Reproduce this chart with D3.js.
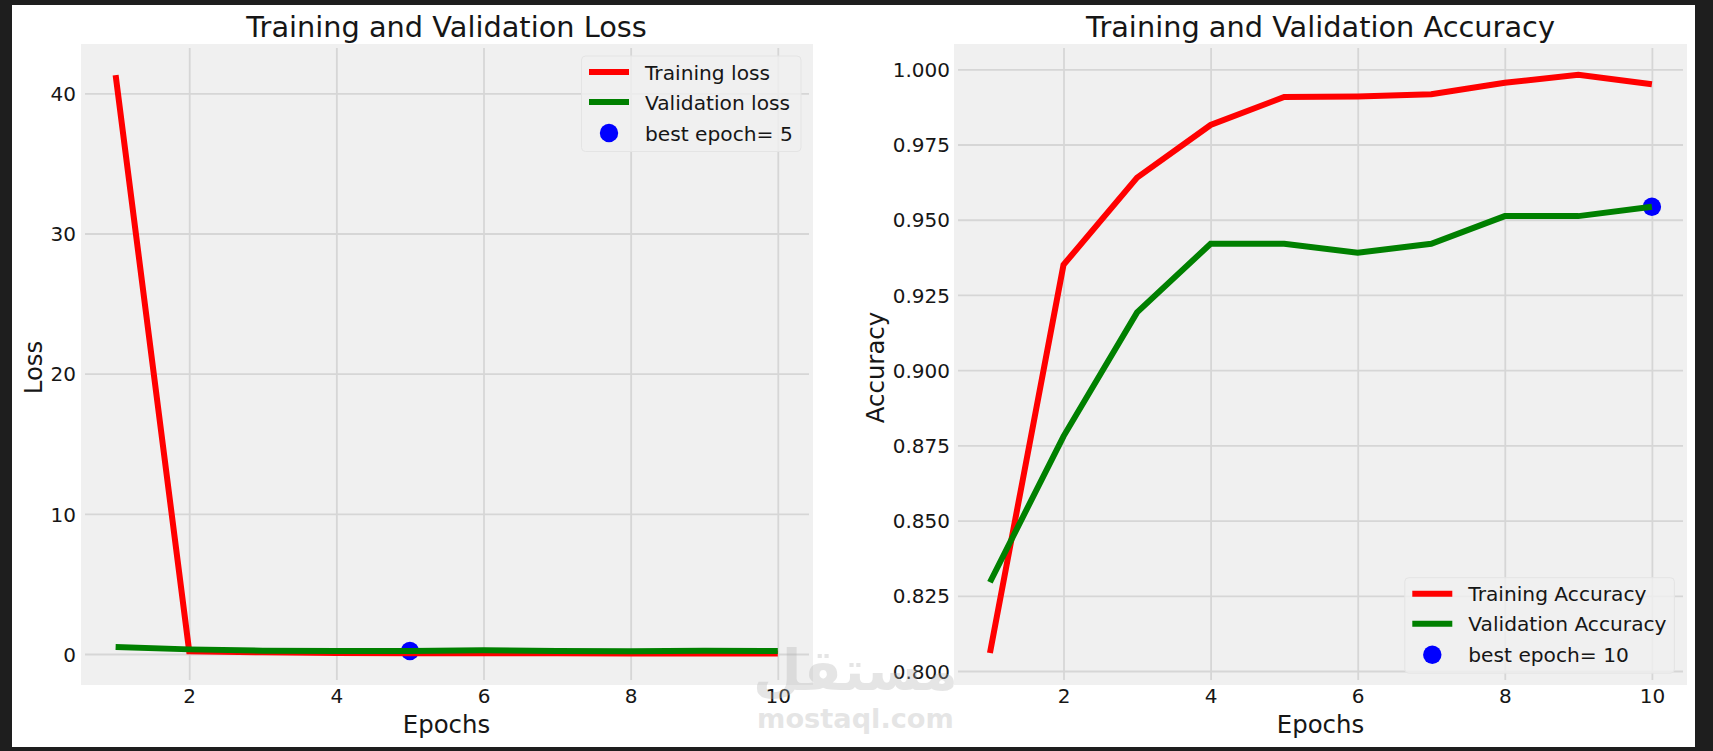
<!DOCTYPE html>
<html>
<head>
<meta charset="utf-8">
<script src="https://cdn.jsdelivr.net/npm/d3@7"></script>
<style>
  html, body { margin: 0; padding: 0; background: #1e1e1e; overflow: hidden; }
  svg { display: block; }
  text { font-family: "DejaVu Sans", sans-serif; fill: #161616; }
</style>
</head>
<body>
<svg id="chart" width="1713" height="751"></svg>
<script>
var epochs = [1, 2, 3, 4, 5, 6, 7, 8, 9, 10];

var trainLoss = [41.3, 0.2, 0.12, 0.08, 0.06, 0.05, 0.05, 0.03, 0.03, 0.03];
var valLoss   = [0.5, 0.33, 0.24, 0.22, 0.21, 0.27, 0.22, 0.2, 0.23, 0.21];
var trainAcc  = [0.806, 0.935, 0.964, 0.9815, 0.9908, 0.991, 0.9917, 0.9955, 0.9982, 0.995];
var valAcc    = [0.8295, 0.878, 0.9192, 0.942, 0.942, 0.939, 0.942, 0.9512, 0.9512, 0.9543];

var xTicks        = [2, 4, 6, 8, 10];
var lossTicks     = [0, 10, 20, 30, 40];
var accTicks      = [0.8, 0.825, 0.85, 0.875, 0.9, 0.925, 0.95, 0.975, 1];
var lossLegend    = ["Training loss", "Validation loss", "best epoch= 5"];
var accLegend     = ["Training Accuracy", "Validation Accuracy", "best epoch= 10"];

var svg = d3.select("#chart");

// white sheet inside the dark frame
svg.append("rect").attr("x", 12).attr("y", 5).attr("width", 1683).attr("height", 742).attr("fill", "#fff");

function drawPanel(opt) {
  var g = svg.append("g");

  var x = d3.scaleLinear().domain([2, 10]).range(opt.xRange);
  var y = d3.scaleLinear().domain(opt.yDomain).range(opt.yRange);

  g.append("rect")
    .attr("x", opt.bg[0]).attr("y", 44)
    .attr("width", opt.bg[1] - opt.bg[0]).attr("height", 641)
    .attr("fill", "#f0f0f0");

  // x axis, grid lines stop a little short of the panel edge
  var xAxis = g.append("g")
    .attr("transform", "translate(0,680)")
    .call(d3.axisBottom(x).tickValues(xTicks).tickSize(-632).tickFormat(d3.format("d")));
  // y axis
  var yAxis = g.append("g")
    .attr("transform", "translate(" + (opt.bg[0] + 4) + ",0)")
    .call(d3.axisLeft(y).tickValues(opt.yTicks).tickSize(-(opt.bg[1] - opt.bg[0] - 8)).tickFormat(opt.yFormat));

  [xAxis, yAxis].forEach(function(a) {
    a.select(".domain").remove();
    a.selectAll(".tick line").attr("stroke", "#d6d6d6").attr("stroke-width", 1.8);
    a.selectAll(".tick text").attr("font-size", 20).attr("fill", "#161616");
  });
  xAxis.selectAll(".tick text").attr("y", 0).attr("dy", 0).attr("transform", "translate(0,23)");
  yAxis.selectAll(".tick text").attr("x", opt.labelRight - opt.bg[0] - 4).attr("dy", "0.36em");

  var line = d3.line().x(function(d, i) { return x(epochs[i]); }).y(function(d) { return y(d); });

  g.append("circle")
    .attr("cx", x(opt.best)).attr("cy", y(opt.val[opt.best - 1]))
    .attr("r", 9.2).attr("fill", "#0000ff");

  g.append("path").datum(opt.train).attr("d", line)
    .attr("fill", "none").attr("stroke", "#ff0000").attr("stroke-width", 6);
  g.append("path").datum(opt.val).attr("d", line)
    .attr("fill", "none").attr("stroke", "#008000").attr("stroke-width", 6);

  // titles
  g.append("text").attr("x", opt.cx).attr("y", 37).attr("text-anchor", "middle")
    .attr("font-size", 28.8).text(opt.title);
  g.append("text").attr("x", opt.cx).attr("y", 733).attr("text-anchor", "middle")
    .attr("font-size", 24.4).text("Epochs");
  g.append("text")
    .attr("transform", "translate(" + opt.yLabelX + ",367.5) rotate(-90)")
    .attr("text-anchor", "middle").attr("font-size", 24.4).text(opt.yLabel);

  // legend
  var lg = g.append("g");
  lg.append("rect")
    .attr("x", opt.legend.x).attr("y", opt.legend.y)
    .attr("width", opt.legend.w).attr("height", 95.5).attr("rx", 4)
    .attr("fill", "#f0f0f0").attr("fill-opacity", 0.8)
    .attr("stroke", "#e4e4e4").attr("stroke-width", 1);

  var hx = opt.legend.x + 7.5, tx = opt.legend.x + 63.5;
  var rows = [16, 46, 77];
  opt.labels.forEach(function(label, i) {
    var ry = opt.legend.y + rows[i];
    if (i < 2) {
      lg.append("line").attr("x1", hx).attr("x2", hx + 40).attr("y1", ry).attr("y2", ry)
        .attr("stroke", i == 0 ? "#ff0000" : "#008000").attr("stroke-width", 6);
    } else {
      lg.append("circle").attr("cx", hx + 20).attr("cy", ry).attr("r", 9.2).attr("fill", "#0000ff");
    }
    lg.append("text").attr("x", tx).attr("y", ry + 7.5).attr("font-size", 20.2).text(label);
  });
}

drawPanel({
  title: "Training and Validation Loss", yLabel: "Loss",
  train: trainLoss, val: valLoss, best: 5,
  yDomain: [0, 40], yRange: [654, 93.3], yTicks: lossTicks, yFormat: d3.format("d"),
  xRange: [189.2, 777.8], bg: [81, 813], cx: 446.5, yLabelX: 42, labelRight: 76,
  legend: { x: 581.5, y: 56, w: 219.5 }, labels: lossLegend
});

drawPanel({
  title: "Training and Validation Accuracy", yLabel: "Accuracy",
  train: trainAcc, val: valAcc, best: 10,
  yDomain: [0.8, 1], yRange: [671, 69.3], yTicks: accTicks, yFormat: d3.format(".3f"),
  xRange: [1063.5, 1651.9], bg: [954, 1687], cx: 1320.5, yLabelX: 884, labelRight: 950,
  legend: { x: 1404.8, y: 577.7, w: 269.6 }, labels: accLegend
});

// mostaql watermark
var wm = svg.append("g").attr("opacity", 0.32);
wm.append("text").attr("x", 855.5).attr("y", 690).attr("text-anchor", "middle")
  .attr("font-size", 56).attr("font-weight", "bold").style("fill", "#b0b0b0").text("مستقل");
wm.append("text").attr("x", 855.5).attr("y", 728).attr("text-anchor", "middle")
  .attr("font-size", 27.2).attr("font-weight", "bold").style("fill", "#b0b0b0").text("mostaql.com");
</script>
</body>
</html>
